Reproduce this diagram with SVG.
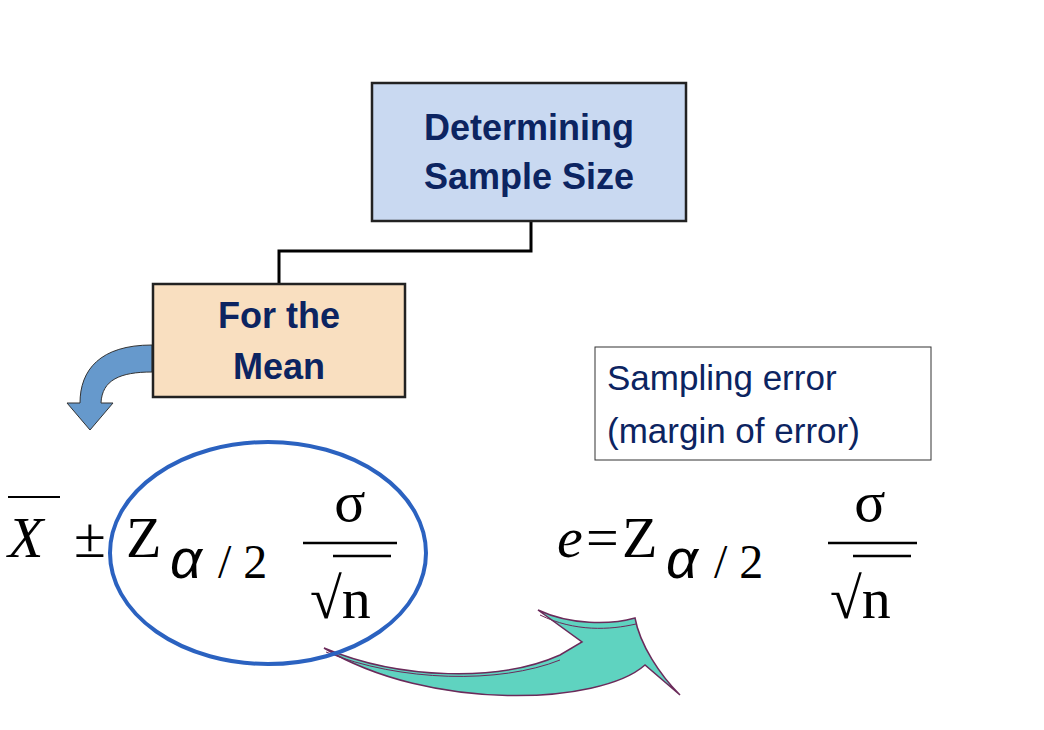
<svg xmlns="http://www.w3.org/2000/svg" width="1044" height="730" viewBox="0 0 1044 730">
<style>
.box{stroke:#222;stroke-width:2.5}
.bt{font-family:"Liberation Sans",Arial,sans-serif;font-weight:bold;font-size:36px;fill:#0c2461;text-anchor:middle}
.m{font-family:"Liberation Serif","Times New Roman",serif;font-size:58px;fill:#000}
.ms{font-family:"Liberation Serif","Times New Roman",serif;font-size:48px;fill:#000}
</style>
<rect width="1044" height="730" fill="#fff"/>
<g id="connectors">
<polyline points="531,221 531,251 279,251 279,284" fill="none" stroke="#000" stroke-width="3"/>
<path d="M152,345 L152,372 C120,372 102,380 101,403 L113,403 L90,430 L67,403 L80,403 C80,370 100,345 152,345 Z" fill="#6699cc" stroke="#333" stroke-width="1"/>
<path d="M324,648 C400,680 500,682 560,655 L582,642 L538,610 C570,625 610,625 635,618 C640,645 660,675 680,695 L645,665 C600,705 430,712 324,648 Z" fill="#5fd3c0" stroke="#6b2a5a" stroke-width="1.5"/>
<path d="M326,652 C400,682 500,684 560,660" fill="none" stroke="#6b2a5a" stroke-width="1"/>
<path d="M540,615 C575,632 610,630 636,624" fill="none" stroke="#6b2a5a" stroke-width="1"/>
</g>
<g id="n1"><rect class="box" x="372" y="83" width="314" height="138" fill="#c9d9f1"/>
<text class="bt" x="529" y="140">Determining</text><text class="bt" x="529" y="189">Sample Size</text></g>
<g id="n2"><rect class="box" x="153" y="284" width="252" height="113" fill="#f9dfc0"/>
<text class="bt" x="279" y="328">For the</text><text class="bt" x="279" y="379">Mean</text></g>
<g id="n3"><rect x="595" y="347" width="336" height="113" fill="#fff" stroke="#333" stroke-width="1"/>
<text font-family="Liberation Sans,Arial,sans-serif" font-size="35" fill="#0c2461" x="607" y="390">Sampling error</text>
<text font-family="Liberation Sans,Arial,sans-serif" font-size="35" fill="#0c2461" x="607" y="443">(margin of error)</text></g>
<g id="formula1">
<line x1="8" y1="497" x2="60" y2="497" stroke="#000" stroke-width="2"/>
<text class="m" x="8" y="557" font-style="italic">X</text>
<text class="m" x="74" y="557">±</text>
<text class="m" x="126" y="557">Z</text>
<text font-family="Liberation Sans,Arial,sans-serif" font-style="italic" font-size="56" x="170" y="578">α</text>
<text class="ms" x="218" y="578">/ 2</text>
<text class="m" x="350" y="521" text-anchor="middle">σ</text>
<line x1="303" y1="543" x2="397" y2="543" stroke="#000" stroke-width="2.5"/>
<text class="m" x="310" y="618">√n</text>
<line x1="333" y1="556" x2="391" y2="556" stroke="#000" stroke-width="2.5"/>
</g>
<ellipse cx="268" cy="553" rx="158" ry="111" fill="none" stroke="#2b62c0" stroke-width="4"/>
<g id="formula2">
<text class="m" x="557" y="557" font-style="italic">e</text>
<text class="m" x="586" y="557">=</text>
<text class="m" x="622" y="557">Z</text>
<text font-family="Liberation Sans,Arial,sans-serif" font-style="italic" font-size="56" x="666" y="578">α</text>
<text class="ms" x="714" y="578">/ 2</text>
<text class="m" x="870" y="521" text-anchor="middle">σ</text>
<line x1="828" y1="543" x2="917" y2="543" stroke="#000" stroke-width="2.5"/>
<text class="m" x="830" y="618">√n</text>
<line x1="853" y1="556" x2="911" y2="556" stroke="#000" stroke-width="2.5"/>
</g>
</svg>
